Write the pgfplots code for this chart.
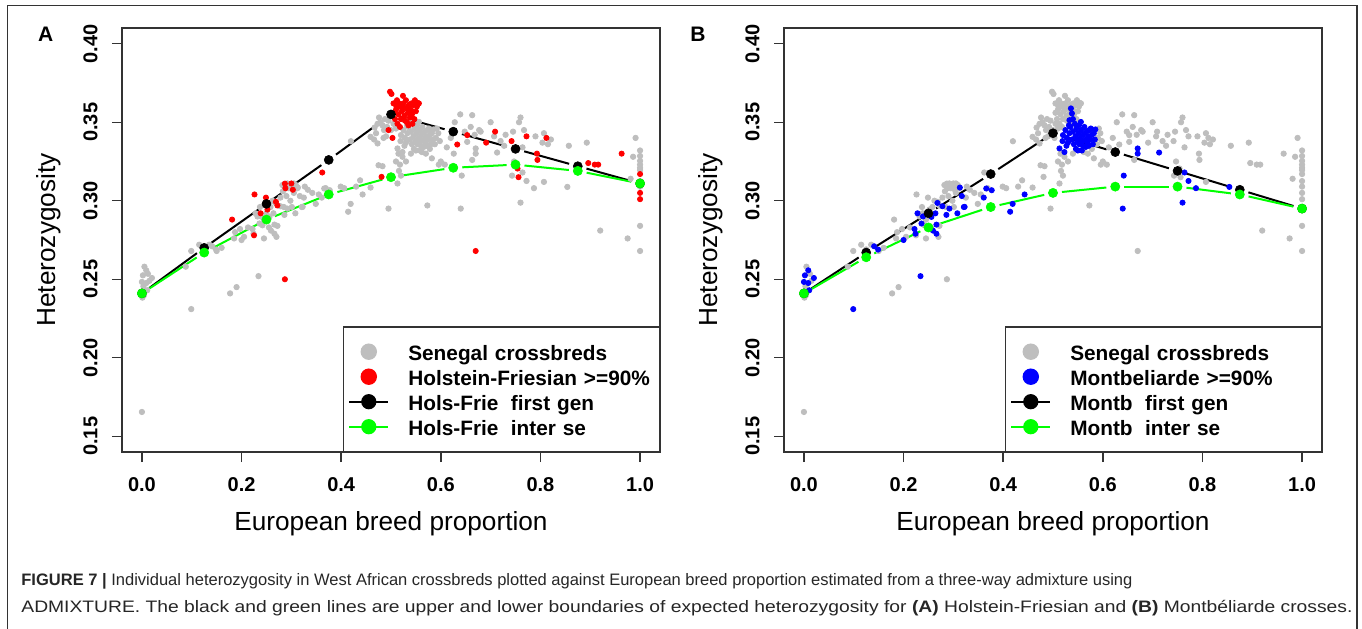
\documentclass[border=0pt]{standalone}
\usepackage{fontspec}
\setmainfont{Liberation Sans}
\usepackage{graphicx}
\usepackage{pgfplots}
\pgfplotsset{compat=1.18}
\usepackage{pgfplotstable}
\definecolor{rgray}{HTML}{BEBEBE}
\definecolor{rgreen}{HTML}{00FF00}
\definecolor{rred}{HTML}{FF0000}
\definecolor{rblue}{HTML}{0000FF}
\definecolor{axcol}{HTML}{333333}

% Senegal crossbreds that are neither >=90% Holstein nor >=90% Montbeliarde
\pgfplotstableread{
x y
0.005 0.258
0.012 0.2535
0.003 0.2455
0.004 0.2398
0.001 0.2383
0.000 0.1655
0.015 0.2490
0.088 0.258
0.099 0.268
0.115 0.272
0.125 0.269
0.135 0.272
0.150 0.268
0.160 0.270
0.177 0.241
0.190 0.245
0.187 0.280
0.197 0.282
0.205 0.277
0.213 0.283
0.185 0.276
0.237 0.296
0.242 0.2844
0.245 0.288
0.250 0.292
0.258 0.296
0.262 0.300
0.270 0.277
0.272 0.284
0.278 0.302
0.283 0.306
0.290 0.303
0.295 0.308
0.298 0.300
0.305 0.305
0.309 0.310
0.312 0.308
0.282 0.310
0.292 0.311
0.300 0.309
0.305 0.311
0.285 0.296
0.301 0.296
0.327 0.309
0.333 0.307
0.325 0.302
0.245 0.276
0.232 0.290
0.255 0.283
0.349 0.298
0.342 0.305
0.355 0.304
0.369 0.308
0.399 0.309
0.406 0.308
0.430 0.309
0.438 0.313
0.459 0.3084
0.475 0.3226
0.483 0.322
0.495 0.295
0.4195 0.3379
0.459 0.3407
0.466 0.339
0.467 0.3466
0.470 0.343
0.473 0.3365
0.473 0.349
0.476 0.353
0.479 0.350
0.483 0.348
0.486 0.345
0.488 0.352
0.490 0.341
0.492 0.347
0.495 0.351
0.485 0.340
0.505 0.349
0.510 0.346
0.500 0.345
0.513 0.311
0.516 0.319
0.518 0.323
0.520 0.316
0.510 0.325
0.523 0.328
0.530 0.325
0.515 0.330
0.573 0.297
0.582 0.327
0.588 0.336
0.590 0.340
0.592 0.346
0.595 0.343
0.598 0.338
0.570 0.330
0.578 0.333
0.596 0.323
0.600 0.325
0.540 0.330
0.562 0.331
0.608 0.323
0.612 0.334
0.626 0.330
0.628 0.350
0.639 0.355
0.648 0.344
0.653 0.3375
0.660 0.347
0.663 0.3545
0.663 0.326
0.668 0.342
0.677 0.345
0.680 0.344
0.700 0.350
0.707 0.341
0.620 0.340
0.720 0.338
0.727 0.335
0.730 0.342
0.745 0.344
0.747 0.325
0.743 0.316
0.757 0.350
0.760 0.353
0.764 0.334
0.767 0.345
0.790 0.341
0.804 0.337
0.807 0.343
0.807 0.312
0.815 0.336
0.821 0.339
0.857 0.335
0.893 0.337
0.920 0.281
0.975 0.276
0.981 0.314
0.986 0.328
0.991 0.340
1.000 0.332
1.000 0.3285
1.000 0.3254
1.000 0.323
1.000 0.321
1.000 0.3195
1.000 0.3125
1.000 0.309
1.000 0.284
1.000 0.268
}\othergray

% Holstein-Friesian >= 90%
\pgfplotstableread{
x y
0.498 0.3694
0.501 0.368
0.524 0.3668
0.553 0.3624
0.495 0.345
0.503 0.340
0.505 0.362
0.510 0.358
0.512 0.364
0.515 0.355
0.518 0.360
0.520 0.352
0.522 0.357
0.525 0.362
0.527 0.354
0.530 0.359
0.532 0.350
0.534 0.356
0.536 0.361
0.538 0.353
0.540 0.358
0.542 0.355
0.545 0.361
0.547 0.352
0.550 0.357
0.552 0.360
0.556 0.362
0.508 0.352
0.513 0.349
0.518 0.347
0.528 0.351
0.535 0.348
0.543 0.349
0.505 0.356
0.516 0.362
0.530 0.364
0.541 0.362
0.548 0.364
0.523 0.359
0.511 0.360
0.537 0.357
0.226 0.304
0.181 0.288
0.225 0.278
0.2383 0.292
0.249 0.302
0.252 0.2944
0.269 0.2993
0.272 0.297
0.287 0.3109
0.300 0.311
0.303 0.307
0.288 0.308
0.287 0.250
0.362 0.318
0.481 0.3152
0.653 0.3418
0.633 0.3358
0.670 0.268
0.709 0.344
0.691 0.337
0.742 0.338
0.772 0.341
0.812 0.340
0.793 0.330
0.794 0.326
0.754 0.3205
0.756 0.315
0.896 0.324
0.909 0.323
0.916 0.323
0.963 0.330
1.000 0.317
1.000 0.305
1.000 0.301
}\redpts

% Montbeliarde >= 90%
\pgfplotstableread{
x y
0.0087 0.2557
0.002 0.2525
0.020 0.2508
0.000 0.2483
0.0087 0.2476
0.0106 0.243
0.099 0.231
0.141 0.271
0.149 0.2689
0.200 0.275
0.222 0.282
0.224 0.279
0.234 0.252
0.228 0.292
0.236 0.2855
0.239 0.290
0.256 0.2897
0.264 0.292
0.266 0.279
0.259 0.281
0.268 0.2986
0.278 0.2965
0.286 0.291
0.292 0.295
0.308 0.292
0.317 0.303
0.321 0.296
0.313 0.3084
0.266 0.2848
0.3226 0.2961
0.366 0.3078
0.377 0.3067
0.361 0.302
0.443 0.304
0.419 0.298
0.414 0.293
0.642 0.316
0.640 0.295
0.670 0.3333
0.670 0.330
0.713 0.3307
0.764 0.318
0.772 0.3126
0.787 0.308
0.760 0.2988
0.854 0.3088
0.536 0.3588
0.538 0.3556
0.533 0.3513
0.556 0.3502
0.576 0.346
0.585 0.3454
0.520 0.3418
0.513 0.3333
0.523 0.331
0.550 0.332
0.566 0.3343
0.525 0.345
0.528 0.340
0.530 0.337
0.533 0.343
0.535 0.347
0.538 0.339
0.540 0.344
0.542 0.336
0.545 0.341
0.547 0.346
0.549 0.338
0.551 0.343
0.553 0.336
0.555 0.340
0.557 0.345
0.559 0.338
0.561 0.342
0.563 0.347
0.565 0.339
0.567 0.344
0.569 0.337
0.571 0.341
0.573 0.345
0.575 0.339
0.578 0.342
0.580 0.336
0.582 0.343
0.544 0.349
0.532 0.348
0.527 0.335
0.546 0.333
0.560 0.335
0.572 0.335
0.540 0.352
0.552 0.348
0.584 0.339
0.519 0.338
0.558 0.332
}\bluepts

\pgfplotstableread{
x first inter
0.000 0.241 0.241
0.125 0.270 0.267
0.250 0.298 0.288
0.375 0.326 0.304
0.500 0.355 0.315
0.625 0.344 0.321
0.750 0.333 0.323
0.875 0.322 0.319
1.000 0.311 0.311
}\hollines

\pgfplotstableread{
x first inter
0.000 0.241 0.241
0.125 0.267 0.264
0.250 0.292 0.283
0.375 0.317 0.296
0.500 0.343 0.305
0.625 0.331 0.309
0.750 0.319 0.309
0.875 0.307 0.304
1.000 0.295 0.295
}\montlines

% line drawn as separate segments with gaps at the points (R type = "b")
\newcommand{\segs}[3]{%
  \addplot[#3, skip coords between index={2}{9}] table[x=x,y=#2] {#1};
  \addplot[#3, skip coords between index={0}{1}, skip coords between index={3}{9}] table[x=x,y=#2] {#1};
  \addplot[#3, skip coords between index={0}{2}, skip coords between index={4}{9}] table[x=x,y=#2] {#1};
  \addplot[#3, skip coords between index={0}{3}, skip coords between index={5}{9}] table[x=x,y=#2] {#1};
  \addplot[#3, skip coords between index={0}{4}, skip coords between index={6}{9}] table[x=x,y=#2] {#1};
  \addplot[#3, skip coords between index={0}{5}, skip coords between index={7}{9}] table[x=x,y=#2] {#1};
  \addplot[#3, skip coords between index={0}{6}, skip coords between index={8}{9}] table[x=x,y=#2] {#1};
  \addplot[#3, skip coords between index={0}{7}] table[x=x,y=#2] {#1};
}

\pgfplotsset{
  panel/.style={
    anchor=north west,
    width=269pt, height=212pt, scale only axis,
    xmin=-0.04, xmax=1.04, ymin=0.14, ymax=0.41,
    axis line style={axcol, line width=0.7pt},
    every tick/.style={axcol, line width=0.7pt},
    tick align=outside, tick pos=left,
    major tick length=5pt,
    xtick={0,0.2,0.4,0.6,0.8,1},
    xticklabels={0.0,0.2,0.4,0.6,0.8,1.0},
    ytick={0.15,0.20,0.25,0.30,0.35,0.40},
    yticklabels={0.15,0.20,0.25,0.30,0.35,0.40},
    xticklabel style={font=\bfseries\fontsize{10}{12}\selectfont, inner sep=0pt, anchor=north},
    yticklabel style={font=\bfseries\fontsize{10}{12}\selectfont, inner sep=0pt, rotate=90, anchor=south},
    xticklabel shift=7.5pt,
    yticklabel shift=7pt,
    xlabel={European breed proportion},
    ylabel={Heterozygosity},
    xlabel style={at={(axis description cs:0.5,-0.17)}, anchor=center, font=\fontsize{13.1}{15}\selectfont, inner sep=0pt},
    ylabel style={at={(axis description cs:-0.136,0.5)}, anchor=center, font=\fontsize{13.1}{15}\selectfont, inner sep=0pt},
    legend cell align=left,
    legend image code/.code={\draw[mark repeat=2,mark phase=2,##1] plot coordinates {(0pt,0pt) (9.75pt,0pt) (19.5pt,0pt)};},
    legend style={at={(1,0)}, anchor=south east, draw=axcol, line width=0.7pt, fill=white,
      inner xsep=2.5pt, inner ysep=7.3pt, row sep=2.5pt,
      font=\bfseries\fontsize{10.4}{12}\selectfont,
      nodes={inner sep=0pt, text width=123pt, text height=9.5pt, text depth=0.5pt, anchor=west},
      /tikz/every odd column/.append style={column sep=9.5pt}},
  },
  graypts/.style={only marks, mark=*, mark size=1.35pt, color=rgray, mark options={draw=none, fill=rgray}, forget plot},
  redp/.style={only marks, mark=*, mark size=1.3pt, color=rred, mark options={draw=none, fill=rred}, forget plot},
  bluep/.style={only marks, mark=*, mark size=1.3pt, color=rblue, mark options={draw=none, fill=rblue}, forget plot},
  firstseg/.style={black, line width=1pt, no marks, shorten <=4.5pt, shorten >=4.5pt, forget plot},
  interseg/.style={rgreen, line width=1pt, no marks, shorten <=4.5pt, shorten >=4.5pt, forget plot},
  firstpt/.style={only marks, mark=*, mark size=2.25pt, mark options={fill=black, draw=black, line width=0.3pt}, forget plot},
  interpt/.style={only marks, mark=*, mark size=2.3pt, mark options={fill=rgreen, draw=rgreen, line width=0.3pt}, forget plot},
}

\newcommand{\capfont}{\fontsize{8.3}{10}\selectfont}

\begin{document}
\begin{tikzpicture}
\useasboundingbox (0pt,0pt) rectangle (681pt,-314pt);
\draw[axcol, line width=0.6pt] (3.75pt,-330pt) -- (3.75pt,-2.7pt) -- (678.5pt,-2.7pt) -- (678.5pt,-330pt);

\begin{axis}[panel, at={(61pt,-14pt)}]
\addplot[graypts] table[x=x,y=y] {\othergray};
\addplot[graypts] table[x=x,y=y] {\bluepts};
\addplot[redp] table[x=x,y=y] {\redpts};
\segs{\hollines}{first}{firstseg}
\addplot[firstpt] table[x=x,y=first] {\hollines};
\segs{\hollines}{inter}{interseg}
\addplot[interpt] table[x=x,y=inter] {\hollines};
\addlegendimage{only marks, mark=*, mark size=3.75pt, rgray, mark options={draw=none, fill=rgray}}
\addlegendentry{Senegal crossbreds}
\addlegendimage{only marks, mark=*, mark size=3.75pt, rred, mark options={draw=none, fill=rred}}
\addlegendentry{Holstein-Friesian >=90\%}
\addlegendimage{black, line width=1pt, mark=*, mark size=3.3pt, mark options={fill=black}}
\addlegendentry{Hols-Frie\hspace{0.6em}first gen}
\addlegendimage{rgreen, line width=1pt, mark=*, mark size=3.3pt, mark options={fill=rgreen}}
\addlegendentry{Hols-Frie\hspace{0.6em}inter se}
\end{axis}

\begin{axis}[panel, at={(392pt,-14pt)}]
\addplot[graypts] table[x=x,y=y] {\othergray};
\addplot[graypts] table[x=x,y=y] {\redpts};
\addplot[bluep] table[x=x,y=y] {\bluepts};
\segs{\montlines}{first}{firstseg}
\addplot[firstpt] table[x=x,y=first] {\montlines};
\segs{\montlines}{inter}{interseg}
\addplot[interpt] table[x=x,y=inter] {\montlines};
\addlegendimage{only marks, mark=*, mark size=3.75pt, rgray, mark options={draw=none, fill=rgray}}
\addlegendentry{Senegal crossbreds}
\addlegendimage{only marks, mark=*, mark size=3.75pt, rblue, mark options={draw=none, fill=rblue}}
\addlegendentry{Montbeliarde >=90\%}
\addlegendimage{black, line width=1pt, mark=*, mark size=3.3pt, mark options={fill=black}}
\addlegendentry{Montb\hspace{0.6em}first gen}
\addlegendimage{rgreen, line width=1pt, mark=*, mark size=3.3pt, mark options={fill=rgreen}}
\addlegendentry{Montb\hspace{0.6em}inter se}
\end{axis}

\node[font=\bfseries\fontsize{10.5}{12}\selectfont, inner sep=0pt] at (22.8pt,-17pt) {A};
\node[font=\bfseries\fontsize{10.5}{12}\selectfont, inner sep=0pt] at (349pt,-17pt) {B};

\node[anchor=base west, inner sep=0pt, text=black!85] at (10.5pt,-292.5pt)
  {\resizebox{555.5pt}{\height}{\capfont\textbf{FIGURE 7 |} Individual heterozygosity in West African crossbreds plotted against European breed proportion estimated from a three-way admixture using}};
\node[anchor=base west, inner sep=0pt, text=black!85] at (10.5pt,-306pt)
  {\resizebox{665.5pt}{\height}{\capfont ADMIXTURE. The black and green lines are upper and lower boundaries of expected heterozygosity for \textbf{(A)} Holstein-Friesian and \textbf{(B)} Montbéliarde crosses.}};
\end{tikzpicture}
\end{document}
